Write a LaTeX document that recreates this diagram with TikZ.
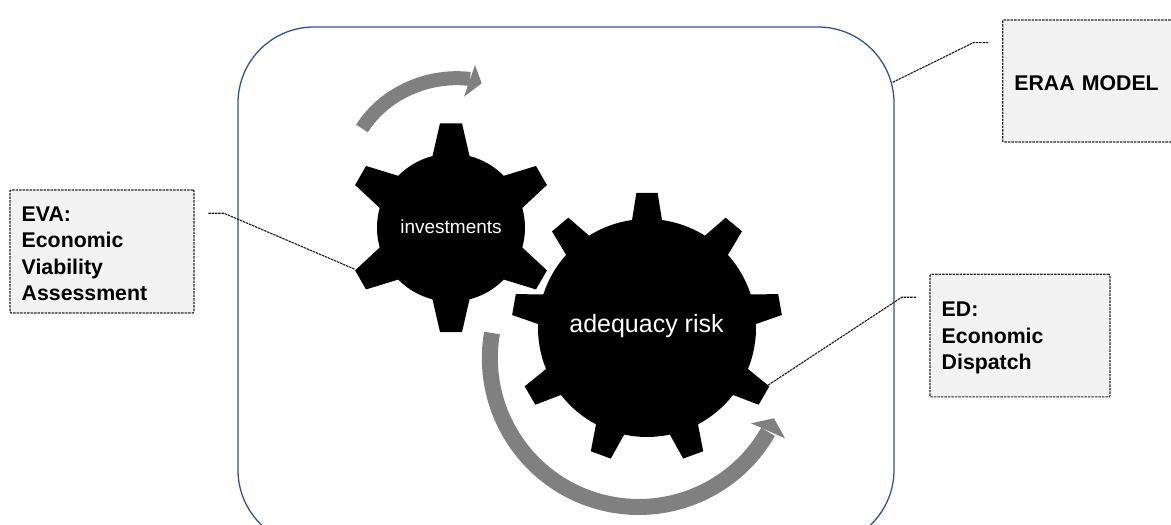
\documentclass[tikz,border=0pt]{standalone}
\usepackage{fontspec}
\setmainfont{Liberation Sans}
\definecolor{framecol}{HTML}{2F5597}
\definecolor{boxfill}{HTML}{F2F2F2}
\definecolor{arrowcol}{HTML}{808080}
\newcommand{\boxstrut}{\rule{0pt}{19.5pt}}
\tikzset{
  infobox/.style={draw=black!85,fill=boxfill,line width=1.1pt,dash pattern=on 2.5pt off 1pt,rounded corners=1pt,
    font=\bfseries\fontsize{21.3}{26.4}\selectfont,align=left,anchor=center,inner xsep=11.7pt,inner ysep=0pt},
  leader/.style={draw=black!90,line width=1.1pt,dash pattern=on 2.5pt off 0.8pt},
  cyclebody/.style={draw=arrowcol,line width=15.5pt},
  cyclehead/.style={fill=arrowcol},
  gearlabel/.style={text=white,anchor=base,inner sep=0pt},
}
% #1 centre, #2 body radius, #3 outer radius, #4 base half-angle, #5 tip half-angle, #6 teeth
\newcommand{\gearpath}[6]{%
  \pgfmathsetmacro{\gearstep}{360/#6}
  \pgfmathsetmacro{\gearsweep}{\gearstep-2*#4}
  \pgfmathsetmacro{\gearstart}{90+#4}
  \fill[black,shift={#1}] (\gearstart:#2)
    \foreach \k [evaluate=\k as \aa using 90-\k*\gearstep] in {0,...,\numexpr#6-1\relax}{
      -- ({\aa+#5}:#3) -- ({\aa-#5}:#3) -- ({\aa-#4}:#2)
      arc[start angle={\aa-#4},delta angle={-\gearsweep},radius=#2]
    } -- cycle;
}
\begin{document}
\begin{tikzpicture}[x=1pt,y=1pt]
\clip (0,0) rectangle (1171,525);
\fill[white] (0,0) rectangle (1171,525);

\node (frame) [draw=framecol,line width=1.3pt,rounded corners=76pt,minimum width=656pt,minimum height=519pt,inner sep=0pt] at (566,238.5) {};

\node (eraa) [infobox,minimum width=190pt,minimum height=122pt,text width=166.6pt] at (1097.7,444) {\boxstrut ERAA MODEL};
\node (eva) [infobox,minimum width=184pt,minimum height=123pt,text width=160.6pt] at (102,273.5) {\boxstrut EVA:\\Economic\\Viability\\Assessment};
\node (ed) [infobox,minimum width=180pt,minimum height=122.7pt,text width=156.6pt] at (1020,189.4) {\boxstrut ED:\\Economic\\Dispatch};

% gears
\gearpath{(451,297.3)}{74}{105}{14.5}{6}{6}
\gearpath{(647,197)}{109}{135.5}{7.9}{4.5}{9}

\node (inv) [gearlabel,font=\fontsize{19}{23}\selectfont] at (451,291.7) {investments};
\node (risk) [gearlabel,font=\fontsize{25}{30}\selectfont] at (646.5,192.3) {adequacy risk};

% cycle arrows
\coordinate (topstart) at (362,396.5);
\coordinate (topend) at (470,446);
\draw[cyclebody,line width=14pt] (topstart) .. controls (385,433) and (430,451) .. (topend);
\fill[cyclehead] (475,460) -- (481.7,441.7) -- (464,428.3) -- cycle;

\coordinate (botstart) at (492,192);
\draw[cyclebody,line width=16pt] (botstart) arc[start angle=170.3,end angle=330.3,radius=148.9] coordinate (botend);
\fill[cyclehead] (751,101.7) -- (774,106.7) -- (785,86.7) -- cycle;

% leaders
\coordinate (l1a) at (892.7,442.7);
\coordinate (l1b) at (973.3,482.3);
\coordinate (l1c) at (988.3,482.3);
\draw[leader] (l1a) -- (l1b) -- (l1c);
\coordinate (l2a) at (208.3,311.7);
\coordinate (l2b) at (224,311.7);
\coordinate (l2c) at (355,255.7);
\draw[leader] (l2a) -- (l2b) -- (l2c);
\coordinate (l3a) at (916,227.7);
\coordinate (l3b) at (901.7,227.7);
\coordinate (l3c) at (768.3,140);
\draw[leader] (l3a) -- (l3b) -- (l3c);
\end{tikzpicture}
\end{document}
